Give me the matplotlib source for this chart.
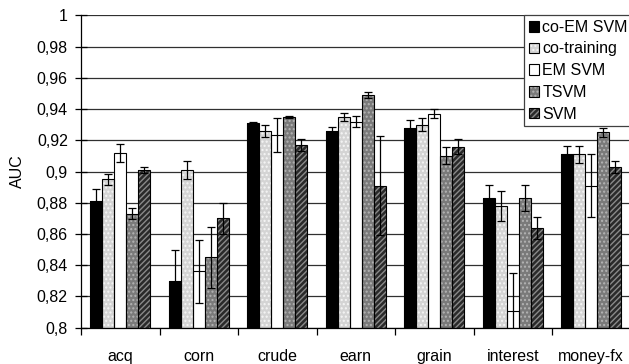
import matplotlib
matplotlib.use("Agg")
import matplotlib.pyplot as plt
import numpy as np
from matplotlib.legend_handler import HandlerTuple

plt.rcParams["font.family"] = ["Liberation Sans", "DejaVu Sans"]
plt.rcParams["hatch.linewidth"] = 1.0

categories = ["acq", "corn", "crude", "earn", "grain", "interest", "money-fx"]
methods = ["co-EM SVM", "co-training", "EM SVM", "TSVM", "SVM"]

auc = {
    "co-EM SVM":   [0.881, 0.830, 0.931, 0.926, 0.928, 0.883, 0.911],
    "co-training": [0.895, 0.901, 0.926, 0.935, 0.930, 0.878, 0.911],
    "EM SVM":      [0.912, 0.836, 0.9235, 0.932, 0.937, 0.811, 0.891],
    "TSVM":        [0.873, 0.845, 0.935, 0.949, 0.910, 0.883, 0.925],
    "SVM":         [0.901, 0.870, 0.917, 0.891, 0.916, 0.864, 0.903],
}
err = {
    "co-EM SVM":   [0.0077, 0.0196, 0.0005, 0.0026, 0.005, 0.0083, 0.0053],
    "co-training": [0.0037, 0.0055, 0.004, 0.0026, 0.004, 0.0098, 0.0053],
    "EM SVM":      [0.0056, 0.0203, 0.0107, 0.0036, 0.003, 0.024, 0.020],
    "TSVM":        [0.0036, 0.0195, 0.0005, 0.002, 0.0055, 0.0083, 0.003],
    "SVM":         [0.002, 0.010, 0.0036, 0.0315, 0.0045, 0.007, 0.004],
}

yticks = [0.8, 0.82, 0.84, 0.86, 0.88, 0.9, 0.92, 0.94, 0.96, 0.98, 1.0]
ytick_labels = ["0,8", "0,82", "0,84", "0,86", "0,88", "0,9", "0,92", "0,94", "0,96", "0,98", "1"]

# face colour, hatch, hatch colour
styles = {
    "co-EM SVM":   ("#000000", None, None),
    "co-training": ("#d4d4d4", "....", "#f6f6f6"),
    "EM SVM":      ("#ffffff", None, None),
    "TSVM":        ("#7a7a7a", "....", "#b4b4b4"),
    "SVM":         ("#2a2a2a", "//////", "#8a8a8a"),
}

W, H = 629, 364
fig = plt.figure(figsize=(W / 100, H / 100), dpi=100)
left, right, top, bottom = 81, 630.5, 15.3, 327.7
ax = fig.add_axes([left / W, 1 - bottom / H, (right - left) / W, (bottom - top) / H])

bw = 0.154
x = np.arange(len(categories)) + 0.5
handles = []
for i, m in enumerate(methods):
    xs = x + (i - 2) * bw
    face, hatch, hcol = styles[m]
    if hatch:
        b1 = ax.bar(xs, np.array(auc[m]) - 0.8, bw, bottom=0.8, color=face,
                    hatch=hatch, edgecolor=hcol, linewidth=0, zorder=2)
    else:
        b1 = ax.bar(xs, np.array(auc[m]) - 0.8, bw, bottom=0.8, color=face,
                    linewidth=0, zorder=2)
    b2 = ax.bar(xs, np.array(auc[m]) - 0.8, bw, bottom=0.8, fill=False,
                edgecolor="black", linewidth=0.8, zorder=3)
    ax.errorbar(xs, auc[m], yerr=err[m], fmt="none", ecolor="black",
                elinewidth=0.9, capsize=3, capthick=0.9, zorder=4)
    handles.append((b1, b2))

ax.set_xlim(0, 7)
ax.set_ylim(0.8, 1.0)
ax.set_yticks(yticks)
ax.set_yticklabels(ytick_labels, fontsize=11.5)
ax.yaxis.grid(True, color="#303030", linewidth=0.9)
ax.set_axisbelow(True)
ax.tick_params(axis="y", length=9, direction="inout", width=0.9, pad=5)

ax.set_xticks(x)
ax.set_xticklabels(categories, fontsize=11.5)
ax.tick_params(axis="x", which="major", length=0, pad=15)
ax.set_xticks(np.arange(0, 8), minor=True)
ax.tick_params(axis="x", which="minor", length=5, direction="out", width=0.9)

for s in ["top", "right"]:
    ax.spines[s].set_visible(False)
for s in ["left", "bottom"]:
    ax.spines[s].set_linewidth(0.9)

ax.set_ylabel("AUC", fontsize=11.5, labelpad=8)

leg = ax.legend(handles, methods, handler_map={tuple: HandlerTuple(ndivide=1)},
                loc="upper left", bbox_to_anchor=(524 / W, 1 - 15 / H),
                bbox_transform=fig.transFigure, fontsize=11.5, frameon=True,
                fancybox=False, edgecolor="#404040", framealpha=1,
                borderpad=0.3, labelspacing=0.42, handlelength=0.65,
                handleheight=0.65, handletextpad=0.2, borderaxespad=0)
leg.get_frame().set_linewidth(0.9)

fig.savefig("out.png", dpi=100)
